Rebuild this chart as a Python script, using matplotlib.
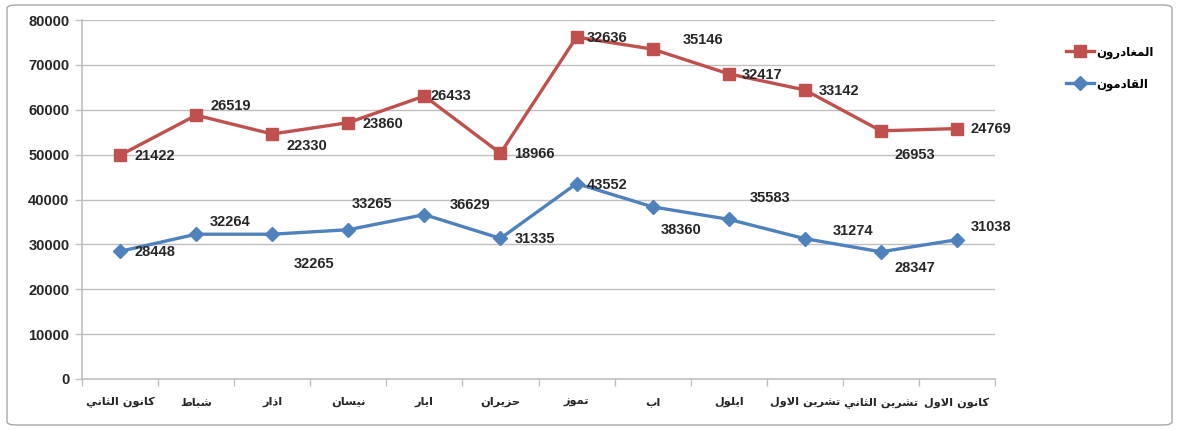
import numpy as np
import matplotlib.pyplot as plt
from matplotlib.patches import FancyBboxPatch

# Monthly travellers (stacked line chart: departures drawn on top of arrivals)
months = ['كانون الثاني', 'شباط', 'اذار', 'نيسان', 'ايار', 'حزيران',
          'تموز', 'اب', 'ايلول', 'تشرين الاول', 'تشرين الثاني', 'كانون الاول']
arrivals = np.array([28448, 32264, 32265, 33265, 36629, 31335,
                     43552, 38360, 35583, 31274, 28347, 31038])
departures = np.array([21422, 26519, 22330, 23860, 26433, 18966,
                       32636, 35146, 32417, 33142, 26953, 24769])
arr_name = 'القادمون'
dep_name = 'المغادرون'

# label offsets in pixels (dx to text left edge, dy down)
dep_offsets = [(14, 1), (14, -9), (14, 12), (14, 1), (6, 0), (14, 1),
               (10, 1), (30, -9), (13, 1), (14, 1), (14, 24), (14, 0)]
arr_offsets = [(14, 1), (14, -12), (21, 30), (3, -26), (25, -10), (14, 1),
               (10, 1), (8, 23), (21, -21), (28, -8), (14, 16), (14, -13)]

# --- minimal Arabic shaping (matplotlib has no bidi / joining) ---
FORMS = {
    'ا': (0xFE8D, 0xFE8E, None, None), 'ب': (0xFE8F, 0xFE90, 0xFE91, 0xFE92),
    'ت': (0xFE95, 0xFE96, 0xFE97, 0xFE98), 'ث': (0xFE99, 0xFE9A, 0xFE9B, 0xFE9C),
    'ح': (0xFEA1, 0xFEA2, 0xFEA3, 0xFEA4), 'د': (0xFEA9, 0xFEAA, None, None),
    'ذ': (0xFEAB, 0xFEAC, None, None), 'ر': (0xFEAD, 0xFEAE, None, None),
    'ز': (0xFEAF, 0xFEB0, None, None), 'س': (0xFEB1, 0xFEB2, 0xFEB3, 0xFEB4),
    'ش': (0xFEB5, 0xFEB6, 0xFEB7, 0xFEB8), 'ط': (0xFEC1, 0xFEC2, 0xFEC3, 0xFEC4),
    'غ': (0xFECD, 0xFECE, 0xFECF, 0xFED0), 'ق': (0xFED5, 0xFED6, 0xFED7, 0xFED8),
    'ك': (0xFED9, 0xFEDA, 0xFEDB, 0xFEDC), 'ل': (0xFEDD, 0xFEDE, 0xFEDF, 0xFEE0),
    'م': (0xFEE1, 0xFEE2, 0xFEE3, 0xFEE4), 'ن': (0xFEE5, 0xFEE6, 0xFEE7, 0xFEE8),
    'و': (0xFEED, 0xFEEE, None, None), 'ي': (0xFEF1, 0xFEF2, 0xFEF3, 0xFEF4),
    'LA': (0xFEFB, 0xFEFC, None, None),
}


def shape(text):
    chars = []
    i = 0
    while i < len(text):
        if text[i] == 'ل' and i + 1 < len(text) and text[i + 1] == 'ا':
            chars.append('LA')
            i += 2
        else:
            chars.append(text[i])
            i += 1
    out = []
    for k, c in enumerate(chars):
        if c not in FORMS:
            out.append(c)
            continue
        prev = chars[k - 1] if k > 0 else None
        nxt = chars[k + 1] if k + 1 < len(chars) else None
        join_prev = prev in FORMS and FORMS[prev][2] is not None
        join_next = FORMS[c][2] is not None and nxt in FORMS
        iso, fin, ini, med = FORMS[c]
        if join_prev and join_next:
            code = med
        elif join_prev:
            code = fin
        elif join_next:
            code = ini
        else:
            code = iso
        out.append(chr(code))
    return ''.join(out)[::-1]


red = '#C0504D'
blue = '#4F81BD'
grid = '#BFBFBF'
num_font = dict(family=['Liberation Sans', 'DejaVu Sans'], fontweight='bold', fontsize=10.5)
ar_font = dict(family='DejaVu Sans', fontweight='bold', fontsize=8.2)

W, H = 1178, 430
fig = plt.figure(figsize=(W / 100, H / 100), dpi=100)
fig.patches.append(FancyBboxPatch((7 / W, 5 / H), 1 - 13 / W, 1 - 10 / H,
                                  boxstyle='round,pad=0,rounding_size=0.008',
                                  transform=fig.transFigure, fill=False,
                                  edgecolor='#A6A6A6', linewidth=1))
ax = fig.add_axes([82 / W, 1 - 379 / H, (995 - 82) / W, (379 - 20) / H])

x = np.arange(len(months))
stacked = arrivals + departures

ax.plot(x, arrivals, color=blue, lw=2.4, marker='D', ms=7, zorder=3, label=shape(arr_name))
ax.plot(x, stacked, color=red, lw=2.4, marker='s', ms=8, zorder=3, label=shape(dep_name))

for i in x:
    dx, dy = dep_offsets[i]
    ax.annotate(str(departures[i]), (i, stacked[i]), xytext=(dx, -dy),
                textcoords='offset pixels', ha='left', va='center', color='#262626', **num_font)
    dx, dy = arr_offsets[i]
    ax.annotate(str(arrivals[i]), (i, arrivals[i]), xytext=(dx, -dy),
                textcoords='offset pixels', ha='left', va='center', color='#262626', **num_font)

ax.set_xlim(-0.5, len(months) - 0.5)
ax.set_ylim(0, 80000)
ax.set_yticks(np.arange(0, 80001, 10000))
ax.set_yticklabels([str(v) for v in range(0, 80001, 10000)], color='#262626', **num_font)
ax.set_xticks(x)
ax.set_xticklabels([shape(m) for m in months], color='#262626', **ar_font)
ax.set_xticks(np.arange(-0.5, len(months), 1), minor=True)
ax.tick_params(axis='x', which='major', length=0, pad=13)
ax.tick_params(axis='x', which='minor', length=5, color=grid, width=1)
ax.tick_params(axis='y', length=5, color=grid, width=1, pad=4)
ax.grid(axis='y', color=grid, lw=1)
ax.set_axisbelow(True)
for s in ['top', 'right']:
    ax.spines[s].set_visible(False)
for s in ['left', 'bottom']:
    ax.spines[s].set_color(grid)
    ax.spines[s].set_linewidth(1.2)

h, l = ax.get_legend_handles_labels()
fig.legend(h[::-1], l[::-1], loc='center left', bbox_to_anchor=(1055 / W, 1 - 68 / H),
           frameon=False, handlelength=2.4, handletextpad=0.2, labelspacing=1.6,
           prop=dict(family='DejaVu Sans', weight='bold', size=8.5))

fig.savefig('out.png', dpi=100)
